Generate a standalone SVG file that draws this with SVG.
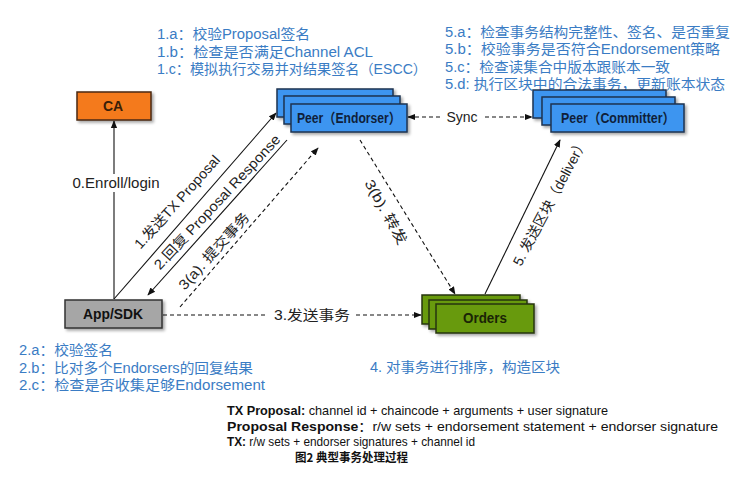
<svg xmlns="http://www.w3.org/2000/svg" width="749" height="481" viewBox="0 0 749 481">
<style>
.note{font-family:"Liberation Sans","Noto Sans CJK SC",sans-serif;font-size:14px;fill:#3A7CC4}
.lbl{font-family:"Liberation Sans","Noto Sans CJK SC",sans-serif;font-size:14px;fill:#222}
.rl{font-family:"Liberation Sans","Noto Sans CJK SC",sans-serif;font-size:14px;fill:#222;text-anchor:middle}
.blk{font-family:"Liberation Sans","Noto Sans CJK SC",sans-serif;font-size:13px;fill:#111}
.bt{font-family:"Liberation Sans","Noto Sans CJK SC",sans-serif;font-size:14px;font-weight:bold;text-anchor:middle}
.peer{fill:#3D95F0;stroke:#1E3350;stroke-width:1.5}
.ord{fill:#679A0C;stroke:#26340A;stroke-width:1.5}
.ln{stroke:#111;stroke-width:1.1;fill:none}
.dl{stroke:#111;stroke-width:1.1;fill:none;stroke-dasharray:4 3}
</style>
<defs>
<filter id="sh" x="-10%" y="-20%" width="130%" height="160%">
<feDropShadow dx="2" dy="2" stdDeviation="1.5" flood-color="#000" flood-opacity="0.35"/>
</filter>
<marker id="ah" viewBox="0 0 10 10" refX="9" refY="5" markerWidth="8" markerHeight="8" markerUnits="userSpaceOnUse" orient="auto-start-reverse">
<path d="M0,1 L10,5 L0,9 z" fill="#111"/>
</marker>
</defs>
<rect width="749" height="481" fill="#fff"/>

<!-- notes -->
<g id="notes-1">
<text class="note" x="157" y="39" textLength="153" lengthAdjust="spacingAndGlyphs">1.a：校验Proposal签名</text>
<text class="note" x="157" y="57" textLength="216" lengthAdjust="spacingAndGlyphs">1.b：检查是否满足Channel ACL</text>
<text class="note" x="157" y="74" textLength="270" lengthAdjust="spacingAndGlyphs">1.c：模拟执行交易并对结果签名（ESCC）</text>
</g>
<g id="notes-5">
<text class="note" x="445" y="36.5" textLength="285" lengthAdjust="spacingAndGlyphs">5.a：检查事务结构完整性、签名、是否重复</text>
<text class="note" x="445" y="54" textLength="275" lengthAdjust="spacingAndGlyphs">5.b：校验事务是否符合Endorsement策略</text>
<text class="note" x="445" y="71.5" textLength="225" lengthAdjust="spacingAndGlyphs">5.c：检查读集合中版本跟账本一致</text>
<text class="note" x="445" y="89" textLength="280" lengthAdjust="spacingAndGlyphs">5.d: 执行区块中的合法事务，更新账本状态</text>
</g>
<g id="notes-2">
<text class="note" x="19" y="355" textLength="94" lengthAdjust="spacingAndGlyphs">2.a：校验签名</text>
<text class="note" x="19" y="373" textLength="234" lengthAdjust="spacingAndGlyphs">2.b：比对多个Endorsers的回复结果</text>
<text class="note" x="19" y="390" textLength="246" lengthAdjust="spacingAndGlyphs">2.c：检查是否收集足够Endorsement</text>
</g>
<g id="notes-4">
<text class="note" x="370" y="372" textLength="190" lengthAdjust="spacingAndGlyphs">4. 对事务进行排序，构造区块</text>
</g>

<!-- connectors -->
<g id="connectors">
<line class="ln" x1="114" y1="299" x2="114" y2="121" marker-end="url(#ah)"/>
<line class="ln" x1="114" y1="299" x2="276" y2="113" marker-end="url(#ah)"/>
<line class="ln" x1="287" y1="140" x2="148" y2="295" marker-end="url(#ah)"/>
<line class="dl" x1="180" y1="307" x2="318" y2="148" marker-end="url(#ah)"/>
<line class="dl" x1="163" y1="315" x2="268" y2="315"/>
<line class="dl" x1="356" y1="315" x2="421" y2="315" marker-end="url(#ah)"/>
<line class="dl" x1="360" y1="140" x2="455" y2="294" marker-end="url(#ah)"/>
<line class="ln" x1="485" y1="294" x2="560" y2="140" marker-end="url(#ah)"/>
<line class="dl" x1="440" y1="117" x2="408" y2="117" marker-end="url(#ah)"/>
<line class="dl" x1="485" y1="117" x2="532" y2="117" marker-end="url(#ah)"/>
<rect x="72" y="174" width="90" height="18" fill="#fff"/>
<text class="lbl" x="116" y="188" text-anchor="middle" textLength="87" lengthAdjust="spacingAndGlyphs">0.Enroll/login</text>
<text class="lbl" x="462" y="122" text-anchor="middle">Sync</text>
<text class="lbl" x="312" y="320" text-anchor="middle" textLength="76" lengthAdjust="spacingAndGlyphs">3.发送事务</text>
<text class="rl" dy="0.35em" transform="translate(177,202) rotate(-48)" textLength="120" lengthAdjust="spacingAndGlyphs">1.发送TX Proposal</text>
<text class="rl" dy="0.35em" transform="translate(217,202) rotate(-47)" textLength="178" lengthAdjust="spacingAndGlyphs">2.回复 Proposal Response</text>
<text class="rl" dy="0.35em" transform="translate(214,251) rotate(-48)" textLength="98" lengthAdjust="spacingAndGlyphs">3(a). 提交事务</text>
<text class="rl" dy="0.35em" transform="translate(386,212) rotate(61)" textLength="72" lengthAdjust="spacingAndGlyphs">3(b). 转发</text>
<text class="rl" dy="0.35em" transform="translate(550,202) rotate(-62)" textLength="142" lengthAdjust="spacingAndGlyphs">5. 发送区块（deliver）</text>
</g>

<!-- nodes -->
<g id="ca">
<rect x="77" y="92" width="74" height="28" fill="#F47A1F" stroke="#4A2A10" stroke-width="1.5" filter="url(#sh)"/>
<text class="bt" x="113" y="111" fill="#3A1E08">CA</text>
</g>
<g id="app-sdk">
<rect x="65" y="300" width="97" height="28" fill="#A6A6A6" stroke="#333" stroke-width="1.5" filter="url(#sh)"/>
<text class="bt" x="113" y="319" fill="#111" textLength="60" lengthAdjust="spacingAndGlyphs">App/SDK</text>
</g>
<g id="peer-endorser">
<rect class="peer" x="277" y="89" width="116" height="28" filter="url(#sh)"/>
<rect class="peer" x="284" y="96" width="116" height="28" filter="url(#sh)"/>
<rect class="peer" x="291" y="104" width="116" height="28" filter="url(#sh)"/>
<text class="bt" x="349" y="123" fill="#0F1F3A" textLength="104" lengthAdjust="spacingAndGlyphs">Peer（Endorser）</text>
</g>
<g id="peer-committer">
<rect class="peer" x="533" y="90" width="133" height="28" filter="url(#sh)"/>
<rect class="peer" x="542" y="97" width="133" height="28" filter="url(#sh)"/>
<rect class="peer" x="551" y="104" width="133" height="28" filter="url(#sh)"/>
<text class="bt" x="618" y="123" fill="#0F1F3A" textLength="114" lengthAdjust="spacingAndGlyphs">Peer（Committer）</text>
</g>
<g id="orders">
<rect class="ord" x="422" y="295" width="98" height="29" filter="url(#sh)"/>
<rect class="ord" x="429" y="300" width="98" height="29" filter="url(#sh)"/>
<rect class="ord" x="436" y="304" width="98" height="29" filter="url(#sh)"/>
<text class="bt" x="485" y="323" fill="#1A2406" textLength="44" lengthAdjust="spacingAndGlyphs">Orders</text>
</g>

<!-- legend -->
<g id="legend">
<text class="blk" x="227" y="415" textLength="381" lengthAdjust="spacingAndGlyphs"><tspan font-weight="bold">TX Proposal:</tspan> channel id + chaincode + arguments + user signature</text>
<text class="blk" x="227" y="431" textLength="491" lengthAdjust="spacingAndGlyphs"><tspan font-weight="bold">Proposal Response</tspan>：r/w sets + endorsement statement + endorser signature</text>
<text class="blk" x="227" y="446" textLength="248" lengthAdjust="spacingAndGlyphs"><tspan font-weight="bold">TX:</tspan> r/w sets + endorser signatures + channel id</text>
<text x="295" y="462" font-family="'Noto Sans CJK SC',sans-serif" font-size="12" font-weight="bold" fill="#111" textLength="113" lengthAdjust="spacingAndGlyphs">图2 典型事务处理过程</text>
</g>
</svg>
